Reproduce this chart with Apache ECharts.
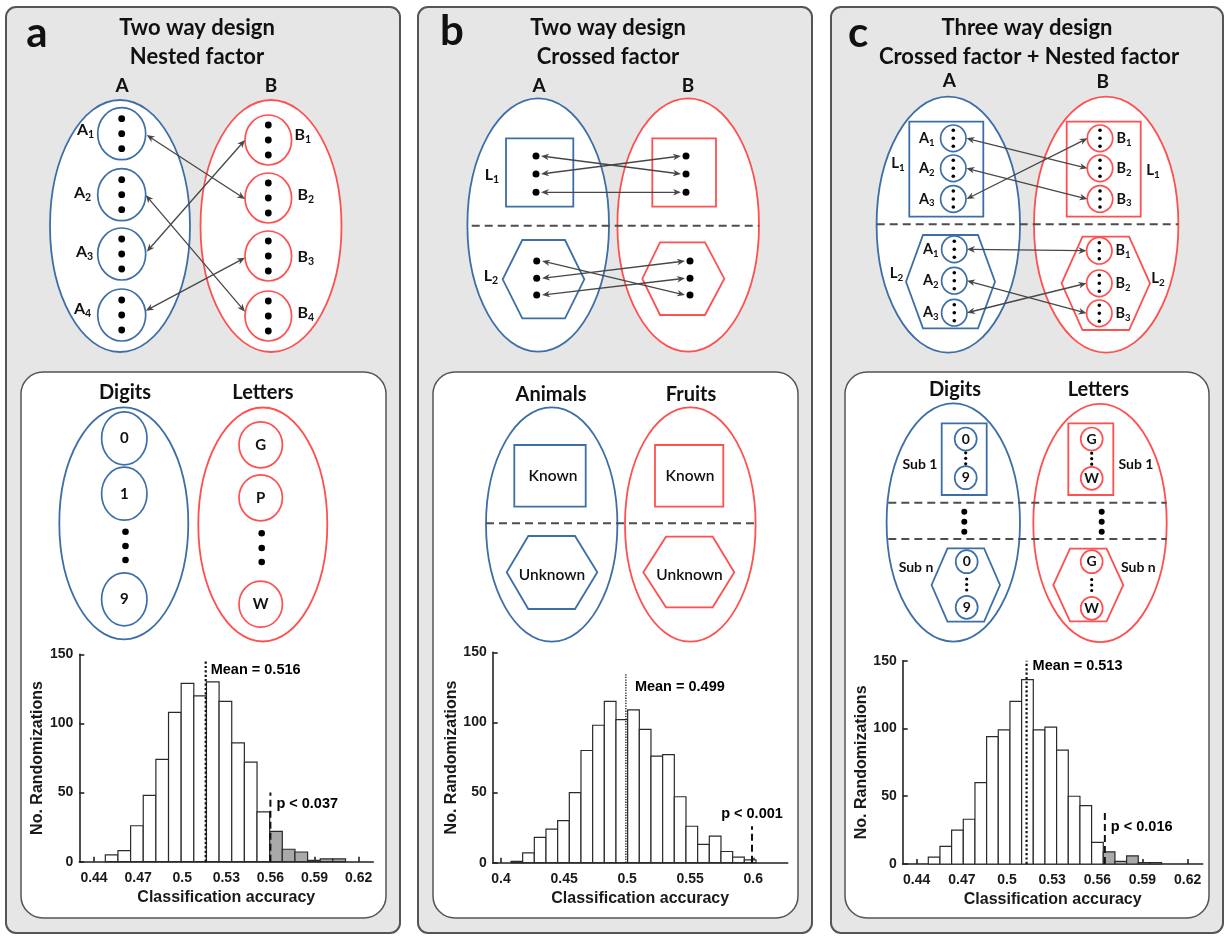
<!DOCTYPE html>
<html>
<head>
<meta charset="utf-8">
<script src="https://cdn.jsdelivr.net/npm/echarts@6/dist/echarts.min.js"></script>
<style>
html,body{margin:0;padding:0;background:#fff;}
#chart{width:1226px;height:936px;}
</style>
</head>
<body>
<div id="chart"></div>
<script>
// ---- Permutation histograms (counts per bin) ----
const countsA = [5, 8, 26, 48, 74, 108, 129, 120, 130, 116, 86, 72, 36, 22, 9, 7, 1, 2, 2];
const binStartA = 0.4477, binWidthA = 0.0086, sigFromA = 13;
const countsB = [1, 7, 18, 24, 30, 50, 80, 98, 115, 102, 109, 95, 76, 77, 47, 26, 13, 19, 8, 4, 2];
const binStartB = 0.4079, binWidthB = 0.00925, sigFromB = 99;
const countsC = [5, 13, 25, 33, 60, 94, 99, 120, 136, 99, 101, 84, 50, 43, 16, 9, 2, 6, 1, 1];
const binStartC = 0.4477, binWidthC = 0.00775, sigFromC = 15;

const means = [0.516, 0.499, 0.513];
const pThresholds = [0.56, 0.599, 0.565];
const pLabels = ['p < 0.037', 'p < 0.001', 'p < 0.016'];

const ticksA = [0.44, 0.47, 0.5, 0.53, 0.56, 0.59, 0.62];
const ticksB = [0.4, 0.45, 0.5, 0.55, 0.6];
const ticksC = [0.44, 0.47, 0.5, 0.53, 0.56, 0.59, 0.62];
const yTicks = [0, 50, 100, 150];

// ---- drawing helpers for the design diagrams ----
const BLUE = '#3d6fa6', RED = '#ff5050', ARROW = '#474747', DASH = '#4d4d4d';
const DFONT = 'Lato, "Open Sans", sans-serif';
const HFONT = '"Liberation Sans", Arial, sans-serif';
const G = [];

function rect(x, y, w, h, stroke, fill, lw, r, z) {
  G.push({type: 'rect', z: z || 2, shape: {x, y, width: w, height: h, r: r || 0},
    style: {fill: fill || 'none', stroke, lineWidth: lw || 1.8}});
}
function ell(cx, cy, rx, ry, stroke, lw) {
  G.push({type: 'ellipse', z: 2, shape: {cx, cy, rx, ry},
    style: {fill: '#fff', stroke, lineWidth: lw || 1.8}});
}
function circ(cx, cy, rx, ry, stroke) {
  G.push({type: 'ellipse', z: 3, shape: {cx, cy, rx, ry},
    style: {fill: '#fff', stroke, lineWidth: 1.7}});
}
function dot(cx, cy, r) {
  G.push({type: 'circle', z: 5, shape: {cx, cy, r}, style: {fill: '#000'}});
}
function txt(x, y, t, size, weight, align, font) {
  G.push({type: 'text', z: 6, x, y, style: {text: t, font: `${weight || 'bold'} ${size}px ${font || DFONT}`,
    fill: '#111', textAlign: align || 'center', textVerticalAlign: 'middle', align: align || 'center', verticalAlign: 'middle'}});
}
function subLabel(x, y, main, sub, size) {
  // main letter with a small subscript, x is the centre of the pair
  txt(x - 1, y, main, size, 'bold', 'right');
  txt(x - 1, y + size * 0.3, sub, size * 0.66, 'bold', 'left');
}
function hexagon(pts, stroke) {
  G.push({type: 'polygon', z: 3, shape: {points: pts}, style: {fill: 'none', stroke, lineWidth: 1.8}});
}
function hline(x1, x2, y) {
  G.push({type: 'line', z: 4, shape: {x1, y1: y, x2, y2: y}, style: {stroke: DASH, lineWidth: 2, lineDash: [8, 5]}});
}
function arrow(x1, y1, x2, y2) {
  const dx = x2 - x1, dy = y2 - y1, L = Math.hypot(dx, dy), ux = dx / L, uy = dy / L;
  const h = 8, w = 3.3;
  G.push({type: 'line', z: 7, shape: {x1: x1 + ux * 4, y1: y1 + uy * 4, x2: x2 - ux * 4, y2: y2 - uy * 4},
    style: {stroke: ARROW, lineWidth: 1.3}});
  const head = (tx, ty, sx, sy) => ({type: 'polygon', z: 7, shape: {points: [
    [tx, ty],
    [tx - sx * h - sy * w, ty - sy * h + sx * w],
    [tx - sx * h * 0.7, ty - sy * h * 0.7],
    [tx - sx * h + sy * w, ty - sy * h - sx * w]]}, style: {fill: ARROW}});
  G.push(head(x2, y2, ux, uy));
  G.push(head(x1, y1, -ux, -uy));
}
function hexPts(cx, cy, halfTop, halfMid, halfH) {
  return [[cx - halfTop, cy - halfH], [cx + halfTop, cy - halfH], [cx + halfMid, cy],
          [cx + halfTop, cy + halfH], [cx - halfTop, cy + halfH], [cx - halfMid, cy]];
}

// ---- panel frames ----
rect(6, 7, 394, 926, '#555', '#e6e6e6', 2, 10, 1);
rect(418, 7, 394, 926, '#555', '#e6e6e6', 2, 10, 1);
rect(831, 7, 392, 926, '#555', '#e6e6e6', 2, 10, 1);
rect(21, 372, 365, 546, '#555', '#fff', 1.5, 22, 1);
rect(433, 372, 365, 546, '#555', '#fff', 1.5, 22, 1);
rect(845, 372, 364, 546, '#555', '#fff', 1.5, 22, 1);

// panel letters and titles
txt(37, 33, 'a', 42, 'bold');
txt(452, 31, 'b', 42, 'bold');
txt(858, 33, 'c', 42, 'bold');
txt(197, 28, 'Two way design', 22);
txt(197, 57, 'Nested factor', 22);
txt(608, 28, 'Two way design', 22);
txt(608, 57, 'Crossed factor', 22);
txt(1027, 28, 'Three way design', 22);
txt(1029, 57, 'Crossed factor + Nested factor', 22);

// ===== panel a: nested design =====
txt(122, 86, 'A', 19); txt(271, 86, 'B', 19);
ell(120, 226, 70, 126, BLUE); ell(271, 226, 70.5, 126, RED);
[133.7, 194.7, 254, 315].forEach(cy => { circ(121.7, cy, 24, 26, BLUE); [-15, 0, 15].forEach(d => dot(121.7, cy + d, 3.4)); });
[140, 198, 256, 316].forEach(cy => { circ(268.3, cy, 23.3, 25, RED); [-15, 0, 15].forEach(d => dot(268.3, cy + d, 3.4)); });
subLabel(89, 130, 'A', '1', 16); subLabel(86, 193, 'A', '2', 16);
subLabel(88, 252, 'A', '3', 16); subLabel(86, 309, 'A', '4', 16);
subLabel(306, 135, 'B', '1', 16); subLabel(309, 195, 'B', '2', 16);
subLabel(309, 257, 'B', '3', 16); subLabel(309, 313, 'B', '4', 16);
arrow(146.7, 135, 245, 199);
arrow(145.7, 195, 245, 311.7);
arrow(146.7, 251.7, 245, 140);
arrow(145.7, 310.7, 245, 257.7);

txt(125, 393, 'Digits', 20); txt(263, 393, 'Letters', 20);
ell(123.8, 523.3, 64.5, 116, BLUE); ell(262.8, 524.5, 64.5, 117, RED);
[[438.3, '0'], [493.7, '1'], [599.3, '9']].forEach(([cy, t]) => { circ(124.3, cy, 22.7, 26.5, BLUE); txt(124.3, cy, t, 15, 'bold'); });
[[444.8, 'G'], [497.8, 'P'], [604.2, 'W']].forEach(([cy, t]) => { circ(260.7, cy, 21.7, 23, RED); txt(260.7, cy, t, 15, 'bold'); });
[531.7, 546, 560].forEach(y => dot(125.5, y, 3.3));
[533.3, 548, 562].forEach(y => dot(261.7, y, 3.3));

// ===== panel b: crossed design =====
txt(539, 86, 'A', 19); txt(688, 86, 'B', 19);
ell(538.2, 225, 70.8, 126.7, BLUE); ell(688.2, 225, 70.8, 126.7, RED);
rect(506, 138.3, 67.3, 68.4, BLUE, 'none', 1.8, 0, 3);
rect(652.3, 138.3, 63.7, 68.4, RED, 'none', 1.8, 0, 3);
hexagon([[522.3, 240], [565, 240], [584.3, 279.3], [565, 318.3], [522.3, 318.3], [502.7, 279.3]], BLUE);
hexagon([[660, 242.3], [705, 242.3], [724.3, 278.7], [705, 315], [660, 315], [642.3, 278.7]], RED);
hline(471.7, 759, 225.7);
subLabel(494, 175, 'L', '1', 16); subLabel(493, 276, 'L', '2', 16);
const bTop = [156, 174, 192.3], bBot = [261, 278.3, 295];
bTop.forEach(y => { dot(536, y, 3.5); dot(686, y, 3.5); });
bBot.forEach(y => { dot(536.7, y, 3.5); dot(690, y, 3.5); });
arrow(541, bTop[0], 681, bTop[1]);
arrow(541, bTop[1], 681, bTop[0]);
arrow(541, bTop[2], 681, bTop[2]);
arrow(542, bBot[0], 685, bBot[2]);
arrow(542, bBot[1], 685, bBot[0]);
arrow(542, bBot[2], 685, bBot[1]);

txt(551, 395, 'Animals', 20); txt(691, 395, 'Fruits', 20);
ell(551.7, 524.5, 65.7, 117.2, BLUE); ell(690.3, 524.5, 65.3, 117.2, RED);
rect(514.3, 445, 71.4, 61.7, BLUE, 'none', 1.8, 0, 3);
rect(655, 445, 68.3, 61.7, RED, 'none', 1.8, 0, 3);
hline(486, 755.7, 523.3);
hexagon([[528.3, 536], [575, 536], [597.3, 572.3], [575, 609], [528.3, 609], [506.7, 572.3]], BLUE);
hexagon([[666, 536.7], [712.7, 536.7], [734.3, 572.3], [712.7, 607.3], [666, 607.3], [643.3, 572.3]], RED);
txt(553, 476, 'Known', 15.5, '600'); txt(690, 476, 'Known', 15.5, '600');
txt(552, 574.5, 'Unknown', 15.5, '600'); txt(689.5, 574.5, 'Unknown', 15.5, '600');

// ===== panel c: crossed + nested design =====
txt(949.3, 81, 'A', 19); txt(1102.7, 82, 'B', 19);
ell(948.3, 224.7, 71.7, 128, BLUE); ell(1106.2, 224.7, 72.2, 128, RED);
rect(909.3, 121.7, 74, 95, BLUE, 'none', 1.8, 0, 3);
rect(1066.7, 121.7, 74, 95, RED, 'none', 1.8, 0, 3);
hexagon(hexPts(950.5, 281.7, 27.5, 44.5, 46.7), BLUE);
hexagon(hexPts(1105.8, 283.3, 23.3, 44.2, 46.7), RED);
hline(876.7, 1178.3, 224.3);
const cTop = [138.3, 168.3, 199], cBotA = [249.3, 280.7, 312.7], cBotB = [250.7, 283.3, 313.3];
function smallNode(cx, cy, col) { circ(cx, cy, 12.7, 13.3, col); [-8, 0, 8].forEach(d => dot(cx, cy + d, 1.8)); }
cTop.forEach(y => { smallNode(953.3, y, BLUE); smallNode(1100, y, RED); });
cBotA.forEach(y => smallNode(954.3, y, BLUE));
cBotB.forEach(y => smallNode(1099.3, y, RED));
['1', '2', '3'].forEach((s, i) => { subLabel(930, cTop[i], 'A', s, 14.5); subLabel(1127, cTop[i], 'B', s, 14.5); });
['1', '2', '3'].forEach((s, i) => { subLabel(934, cBotA[i], 'A', s, 14.5); subLabel(1126, cBotB[i], 'B', s, 14.5); });
subLabel(900, 163.3, 'L', '1', 15); subLabel(1155, 170, 'L', '1', 15);
subLabel(898.5, 273.3, 'L', '2', 15); subLabel(1160, 278.3, 'L', '2', 15);
arrow(966.5, cTop[0], 1087.5, cTop[1]);
arrow(966.5, cTop[1], 1087.5, cTop[2]);
arrow(966.5, cTop[2], 1087.5, cTop[0]);
arrow(967, cBotA[0], 1086.5, cBotB[0]);
arrow(967, cBotA[1], 1086.5, cBotB[2]);
arrow(967, cBotA[2], 1086.5, cBotB[1]);

txt(955, 389.5, 'Digits', 20); txt(1098.3, 389.5, 'Letters', 20);
ell(953.3, 522.5, 66.7, 119.2, BLUE); ell(1100, 523, 66.7, 119.2, RED);
hline(888.3, 1166.7, 502.7); hline(888.3, 1166.7, 539);
[511.7, 521.7, 531.7].forEach(y => { dot(964.3, y, 3); dot(1101.7, y, 3); });
rect(941.7, 423.3, 45, 71.7, BLUE, 'none', 1.8, 0, 3);
rect(1068.3, 423.3, 45, 71.7, RED, 'none', 1.8, 0, 3);
hexagon(hexPts(965.8, 585, 18.3, 34.2, 36.7), BLUE);
hexagon(hexPts(1088.3, 585, 18.3, 35, 36.3), RED);
function pairNode(cx, y1, y2, t1, t2, col) {
  circ(cx, y1, 11, 11.5, col); circ(cx, y2, 11, 11.5, col);
  txt(cx, y1, t1, 14, 'bold'); txt(cx, y2, t2, 14, 'bold');
  const m = (y1 + y2) / 2;
  [-5.5, 0, 5.5].forEach(d => dot(cx, m + d, 1.6));
}
pairNode(965.7, 439, 477.7, '0', '9', BLUE);
pairNode(1091.7, 439, 478.3, 'G', 'W', RED);
pairNode(966.7, 561.7, 607.3, '0', '9', BLUE);
pairNode(1091.7, 561.7, 608.3, 'G', 'W', RED);
txt(920, 464.3, 'Sub 1', 14); txt(1136, 464.3, 'Sub 1', 14);
txt(916, 567.3, 'Sub n', 14); txt(1138.3, 567.3, 'Sub n', 14);

// ---- histogram plotting ----
const gridBoxes = [
  {left: 79.3, right: 1226 - 373.3, top: 654.3, bottom: 936 - 861.7},
  {left: 492.7, right: 1226 - 787.7, top: 652.3, bottom: 936 - 862.7},
  {left: 902.7, right: 1226 - 1202.7, top: 660.7, bottom: 936 - 864}
];
const xRanges = [[0.43, 0.63], [0.3934, 0.6273], [0.4307, 0.63]];
const xTicks = [ticksA, ticksB, ticksC];
const hists = [
  [countsA, binStartA, binWidthA, sigFromA],
  [countsB, binStartB, binWidthB, sigFromB],
  [countsC, binStartC, binWidthC, sigFromC]
];
const axisFont = {fontFamily: HFONT, fontWeight: 'bold', color: '#1a1a1a'};

const grid = gridBoxes.map(b => Object.assign({containLabel: false, outerBoundsMode: 'none'}, b));
const xAxis = xRanges.map((r, i) => ({
  type: 'value', gridIndex: i, min: r[0], max: r[1], z: 5,
  name: 'Classification accuracy', nameLocation: 'middle', nameGap: 28,
  nameTextStyle: Object.assign({fontSize: 16}, axisFont),
  axisLine: {show: true, onZero: false, lineStyle: {color: '#222', width: 1.6}},
  axisTick: {show: true, inside: true, length: 5, customValues: xTicks[i], lineStyle: {color: '#222', width: 1.6}},
  axisLabel: Object.assign({fontSize: 14, margin: 9, customValues: xTicks[i], formatter: v => String(+v.toFixed(2))}, axisFont),
  splitLine: {show: false}
}));
const yAxis = gridBoxes.map((b, i) => ({
  type: 'value', gridIndex: i, min: 0, max: 150, interval: 50, z: 5,
  name: 'No. Randomizations', nameLocation: 'middle', nameGap: 33,
  nameTextStyle: Object.assign({fontSize: 16}, axisFont),
  axisLine: {show: true, onZero: false, lineStyle: {color: '#222', width: 1.6}},
  axisTick: {show: true, inside: true, length: 5, customValues: yTicks, lineStyle: {color: '#222', width: 1.6}},
  axisLabel: Object.assign({fontSize: 14, margin: 6, customValues: yTicks}, axisFont),
  splitLine: {show: false}
}));

const series = [];
hists.forEach(([counts, start, width, sigFrom], i) => {
  series.push({
    type: 'custom', xAxisIndex: i, yAxisIndex: i, z: 6, silent: true,
    data: counts.map((c, k) => [start + k * width, start + (k + 1) * width, c, k >= sigFrom ? 1 : 0]),
    encode: {x: [0, 1], y: 2},
    renderItem(params, api) {
      const p0 = api.coord([api.value(0), 0]);
      const p1 = api.coord([api.value(1), api.value(2)]);
      return {type: 'rect', shape: {x: p0[0], y: p1[1], width: p1[0] - p0[0], height: p0[1] - p1[1]},
        style: {fill: api.value(3) ? '#a9a9a9' : '#fff', stroke: '#2b2b2b', lineWidth: 1.2}};
    }
  });
});

// mean (dotted) and significance threshold (dashed) lines with their annotations
const meanTop = [145, 135, 150];
const meanWidth = [2.2, 1.3, 2.2];
const pTop = [50, 26, 39];
const meanLabelAt = [139, 125, 146];
const meanLabelGap = [5, 9, 6];
const pLabelAt = [41.5, 35, 27.5];
const labelText = Object.assign({fontSize: 14.5, opacity: 1}, axisFont, {color: '#000'});
for (let i = 0; i < 3; i++) {
  series.push({type: 'line', xAxisIndex: i, yAxisIndex: i, z: 8, silent: true, symbol: 'none',
    data: [[means[i], 0], [means[i], meanTop[i]]],
    lineStyle: {type: 'dotted', width: meanWidth[i], color: '#111'}});
  series.push({type: 'line', xAxisIndex: i, yAxisIndex: i, z: 8, silent: true, symbol: 'none',
    data: [[pThresholds[i], 0], [pThresholds[i], pTop[i]]],
    lineStyle: {type: [7, 4], width: 2, color: '#111'}});
  series.push({type: 'scatter', xAxisIndex: i, yAxisIndex: i, z: 9, silent: true, symbolSize: 0,
    itemStyle: {opacity: 1}, data: [[means[i], meanLabelAt[i]]],
    label: Object.assign({show: true, position: 'right', distance: meanLabelGap[i],
      formatter: () => 'Mean = ' + means[i]}, labelText)});
  series.push({type: 'scatter', xAxisIndex: i, yAxisIndex: i, z: 9, silent: true, symbolSize: 0,
    itemStyle: {opacity: 1}, data: [[pThresholds[i], pLabelAt[i]]],
    label: Object.assign({show: true, position: i === 1 ? 'inside' : 'right', distance: 6,
      formatter: () => pLabels[i]}, labelText)});
}

const chart = echarts.init(document.getElementById('chart'), null, {renderer: 'canvas'});
chart.setOption({
  backgroundColor: '#fff',
  animation: false,
  graphic: {elements: G},
  grid, xAxis, yAxis, series
});
</script>
</body>
</html>
